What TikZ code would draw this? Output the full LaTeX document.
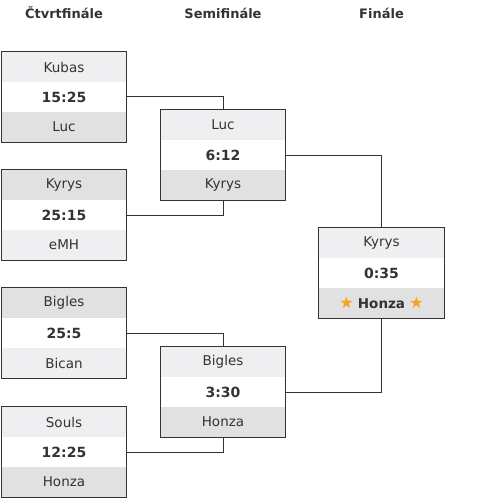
\documentclass[tikz,border=0pt]{standalone}
\usepackage{fontspec}
\setmainfont{DejaVu Sans}
\definecolor{ink}{HTML}{333333}
\definecolor{lite}{HTML}{EFEFF1}
\definecolor{dark}{HTML}{E1E1E1}
\definecolor{starc}{HTML}{F5A41C}
\newcommand{\winstar}{\textcolor{starc}{\fontsize{16}{16}\selectfont ★}}
\tikzset{
  cell/.style={minimum width=125pt, minimum height=30pt, inner sep=0pt, text=ink, font=\fontsize{13.5}{15}\selectfont},
  score/.style={cell, fill=white, font=\fontsize{14}{16}\selectfont\bfseries},
  head/.style={text=ink, font=\fontsize{13}{15}\selectfont\bfseries},
  link/.style={ink, line width=1pt}
}
\begin{document}
\begin{tikzpicture}[x=1pt, y=-1pt]
  \useasboundingbox (0,0) rectangle (500,500);
  \node[head] (h1) at (64,13) {Čtvrtfinále};
  \node[head] (h2) at (223,13) {Semifinále};
  \node[head] (h3) at (381.5,13) {Finále};
  \foreach \m/\cx/\ty/\ta/\sc/\tb/\fa/\fb in {q1/64/52/Kubas/15:25/Luc/lite/dark, q2/64/170/Kyrys/25:15/eMH/dark/lite, q3/64/288/Bigles/25:5/Bican/dark/lite, q4/64/407/Souls/12:25/Honza/lite/dark, s1/223/110/Luc/6:12/Kyrys/lite/dark, s2/223/347/Bigles/3:30/Honza/lite/dark, f1/381.5/228/Kyrys/0:35/{\winstar\ \textbf{Honza}\ \winstar}/lite/dark}{
    \node[cell, fill=\fa] (\m-a) at (\cx,\ty+15) {\ta};
    \node[score] (\m-s) at (\cx,\ty+45) {\sc};
    \node[cell, fill=\fb] (\m-b) at (\cx,\ty+75) {\tb};
    \draw[link] (\m-a.north west) rectangle (\m-b.south east);
  }
  \draw[link] (q1-s.east) -| (s1-a.north);
  \draw[link] (q2-s.east) -| (s1-b.south);
  \draw[link] (q3-s.east) -| (s2-a.north);
  \draw[link] (q4-s.east) -| (s2-b.south);
  \draw[link] (s1-s.east) -| (f1-a.north);
  \draw[link] (s2-s.east) -| (f1-b.south);
\end{tikzpicture}
\end{document}
